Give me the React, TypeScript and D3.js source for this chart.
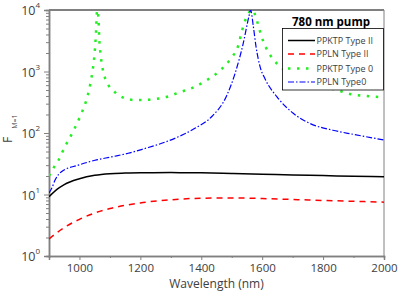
import React, { useEffect, useRef } from 'react';
import { select, scaleLinear, scaleLog, line, axisBottom, axisLeft, curveMonotoneX } from 'd3';

// PPKTP Type II (black solid)
const ppktpIIWl = [900, 925, 950, 1000, 1050, 1100, 1150, 1200, 1300, 1400, 1500, 1600, 1700, 1800, 1900, 2000];
const ppktpIIF = [9.2, 12, 14.5, 18, 20.5, 21.8, 22.3, 22.6, 22.7, 22.5, 22, 21.4, 20.8, 20.3, 19.8, 19.4];

// PPLN Type II (red dashed)
const pplnIIWl = [900, 950, 1000, 1050, 1100, 1200, 1300, 1400, 1500, 1600, 1700, 1800, 1900, 2000];
const pplnIIF = [1.9, 2.9, 3.95, 5, 5.9, 7.3, 8.2, 8.7, 8.8, 8.6, 8.3, 8.0, 7.75, 7.5];

// PPKTP Type 0 (green dotted)
const ppktp0Wl = [900, 914, 931, 953, 977, 1002, 1021, 1030, 1042, 1049, 1054, 1058, 1062, 1065, 1071, 1082, 1095, 1111, 1133,
  1182, 1215, 1248, 1281, 1328, 1379, 1423, 1464, 1497, 1522, 1533, 1549, 1568, 1582, 1593, 1604, 1626, 1659, 1700, 1750, 1800,
  1845, 1889, 1943, 2000];
const ppktp0F = [20, 26.6, 36, 61, 101, 185, 322, 470, 950, 1800, 4000, 10000, 7800, 3460, 1630, 846, 600, 490, 400,
  344, 344, 357, 380, 458, 565, 750, 1060, 1630, 2700, 4450, 7760, 10000, 6900, 4450, 3040, 1860, 1200, 880, 680, 570,
  500, 430, 400, 380];

// PPLN Type0 (blue dash-dot)
const ppln0Wl = [900, 909, 920, 941, 996, 1051, 1106, 1160, 1215, 1270, 1325, 1379, 1434, 1483, 1510, 1538, 1556, 1562,
  1571, 1580, 1593, 1610, 1648, 1702, 1757, 1832, 1900, 2000];
const ppln0F = [10.6, 12.6, 17.2, 23.5, 30, 36, 41, 46.8, 56, 68, 87, 119, 184, 400, 900, 2900, 7700, 10000,
  5400, 2500, 1200, 750, 390, 209, 143, 111, 95, 77];

const xMajor = [1000, 1200, 1400, 1600, 1800, 2000];
const xMinor = [1100, 1300, 1500, 1700, 1900];
const yMajor = [1, 10, 100, 1000, 10000];
const yExponents = ['0', '1', '2', '3', '4'];

const legendLabels = ['PPKTP Type II', 'PPLN Type II', 'PPKTP Type 0', 'PPLN Type0'];

const seriesStyles = [
  { color: '#000000', dash: null, width: 1.5 },
  { color: '#ff0000', dash: '6,5', width: 1.5 },
  { color: '#22ee22', dash: '2.5,6.5', width: 2.5 },
  { color: '#0000ff', dash: '6,2,1.5,2', width: 1.2 },
];

const Chart = () => {
  const svgRef = useRef(null);
  useEffect(() => {
    const svg = select(svgRef.current);
    svg.selectAll('*').remove();
    const left = 49, right = 384, top = 10, bottom = 256;
    const font = '"Open Sans", sans-serif';
    const axisColor = '#808080';
    const textColor = '#404040';

    const xScale = scaleLinear().domain([900, 2000]).range([left, right]);
    const yScale = scaleLog().domain([1, 10000]).range([bottom, top]);

    svg.append('clipPath').attr('id', 'plot-clip')
      .append('rect').attr('x', left).attr('y', top).attr('width', right - left).attr('height', bottom - top);

    // frame: top and right
    svg.append('line').attr('x1', left).attr('x2', right).attr('y1', top).attr('y2', top)
      .attr('stroke', axisColor).attr('stroke-width', 2);
    svg.append('line').attr('x1', right).attr('x2', right).attr('y1', top).attr('y2', bottom)
      .attr('stroke', axisColor).attr('stroke-width', 1);

    // x axis
    const xAxisMinor = axisBottom(xScale).tickValues(xMinor).tickSize(2).tickFormat(() => '');
    const xAxisMajor = axisBottom(xScale).tickValues(xMajor).tickSize(4).tickPadding(4).tickFormat(d => String(d));
    const gxMinor = svg.append('g').attr('transform', `translate(0,${bottom})`).call(xAxisMinor);
    const gx = svg.append('g').attr('transform', `translate(0,${bottom})`).call(xAxisMajor);
    [gx, gxMinor].forEach(g => {
      g.select('.domain').attr('stroke', axisColor).attr('stroke-width', 1.5);
      g.selectAll('.tick line').attr('stroke', axisColor);
    });
    gx.selectAll('.tick text').attr('font-family', font).attr('font-size', 11.5).attr('fill', textColor);

    // y axis
    const yMinor = yScale.ticks().filter(v => !yMajor.includes(v));
    const yAxisMinor = axisLeft(yScale).tickValues(yMinor).tickSize(3).tickFormat(() => '');
    const yAxisMajor = axisLeft(yScale).tickValues(yMajor).tickSize(5).tickFormat(() => '');
    const gyMinor = svg.append('g').attr('transform', `translate(${left},0)`).call(yAxisMinor);
    const gy = svg.append('g').attr('transform', `translate(${left},0)`).call(yAxisMajor);
    [gy, gyMinor].forEach(g => {
      g.select('.domain').attr('stroke', axisColor).attr('stroke-width', 1.5);
      g.selectAll('.tick line').attr('stroke', axisColor);
    });
    yMajor.forEach((v, i) => {
      const t = svg.append('text')
        .attr('x', 40).attr('y', yScale(v) + 5)
        .attr('text-anchor', 'end')
        .attr('font-family', font).attr('font-size', 12.5).attr('fill', textColor)
        .text('10');
      t.append('tspan').attr('dy', -7).attr('font-size', 8).text(yExponents[i]);
    });

    // axis titles
    svg.append('text')
      .attr('x', xScale(1450)).attr('y', 288)
      .attr('text-anchor', 'middle')
      .attr('font-family', font).attr('font-size', 12).attr('fill', textColor)
      .text('Wavelength (nm)');
    const yl = svg.append('text')
      .attr('transform', 'translate(12,143) rotate(-90)')
      .attr('font-family', font).attr('font-size', 12).attr('fill', textColor)
      .text('F');
    yl.append('tspan').attr('dx', 8).attr('dy', 5).attr('font-size', 7).text('M=1');

    // curves
    const allWl = [ppktpIIWl, pplnIIWl, ppktp0Wl, ppln0Wl];
    const allF = [ppktpIIF, pplnIIF, ppktp0F, ppln0F];
    const lineGen = line()
      .x(d => xScale(d[0]))
      .y(d => yScale(d[1]))
      .curve(curveMonotoneX);
    const plot = svg.append('g').attr('clip-path', 'url(#plot-clip)');
    allWl.forEach((wl, i) => {
      const pts = wl.map((w, j) => [w, allF[i][j]]);
      const st = seriesStyles[i];
      plot.append('path')
        .attr('d', lineGen(pts))
        .attr('fill', 'none')
        .attr('stroke', st.color)
        .attr('stroke-width', st.width)
        .attr('stroke-dasharray', st.dash);
    });

    // legend
    svg.append('text')
      .attr('x', 331).attr('y', 26)
      .attr('text-anchor', 'middle')
      .attr('font-family', font).attr('font-size', 11.5).attr('font-weight', 'bold').attr('fill', '#000')
      .text('780 nm pump');
    svg.append('rect')
      .attr('x', 282.5).attr('y', 28.5).attr('width', 101).attr('height', 61.5)
      .attr('fill', '#fff').attr('stroke', '#000').attr('stroke-width', 0.8);
    const rowY = [40.5, 54, 68.5, 82];
    legendLabels.forEach((lab, i) => {
      const st = seriesStyles[i];
      svg.append('line')
        .attr('x1', 288).attr('x2', 315).attr('y1', rowY[i]).attr('y2', rowY[i])
        .attr('stroke', st.color).attr('stroke-width', st.width)
        .attr('stroke-dasharray', st.dash);
      svg.append('text')
        .attr('x', 316.5).attr('y', rowY[i] + 3.2)
        .attr('font-family', font).attr('font-size', 9).attr('fill', textColor)
        .text(lab);
    });
  }, []);

  return (
    <svg ref={svgRef} width={399} height={301} style={{ position: 'absolute', left: 0, top: 0 }} />
  );
};

export default function App() {
  return <Chart />;
}
